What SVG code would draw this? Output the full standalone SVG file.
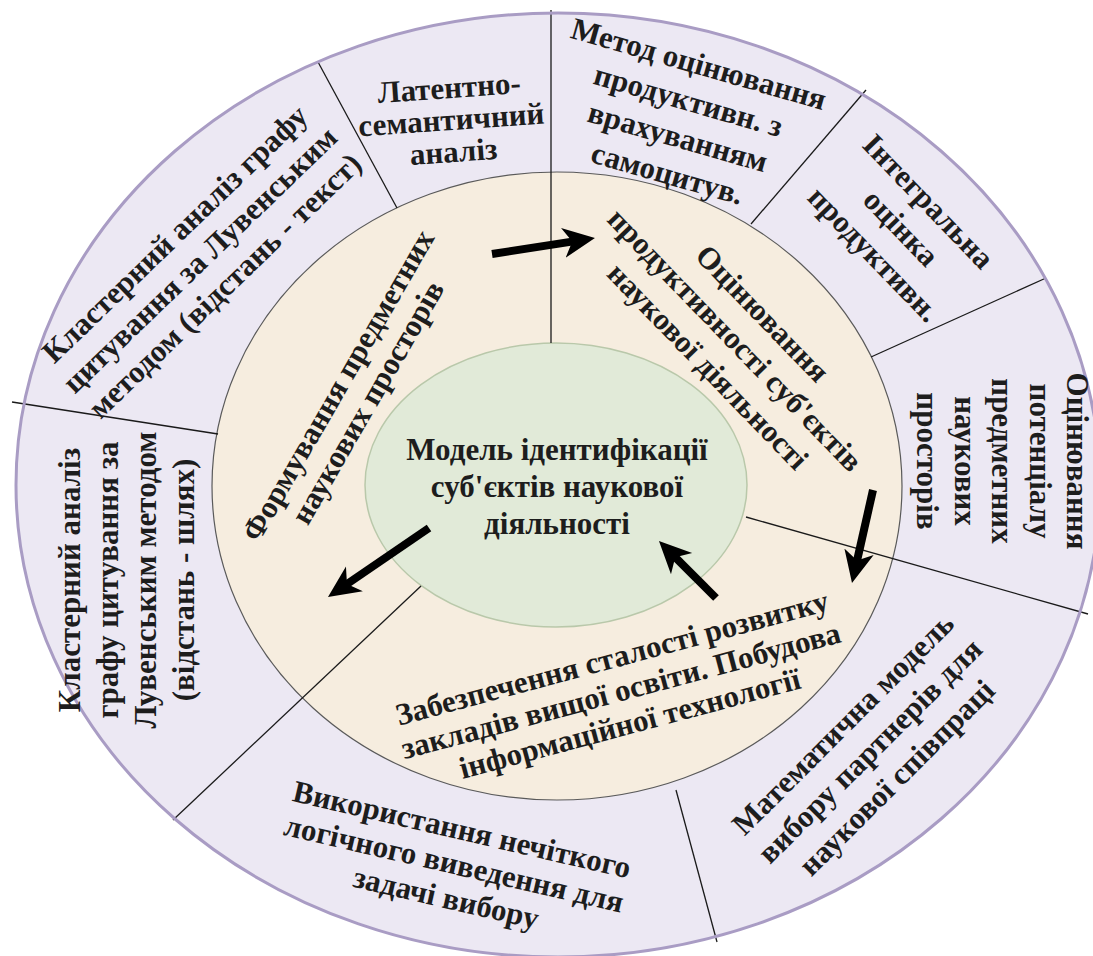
<svg xmlns="http://www.w3.org/2000/svg" width="1093" height="956" viewBox="0 0 1093 956">
  <style>
    .t { font-family: "Liberation Serif", "Times New Roman", serif; font-weight: bold; font-size: 31px; fill: #1d1d1d; text-anchor: middle; }
    .div { stroke: #1a1a1a; stroke-width: 1.3; fill: none; }
    .arrow { stroke: #000; stroke-width: 8; fill: none; marker-end: url(#head); }
  </style>
  <defs>
    <marker id="head" markerUnits="userSpaceOnUse" markerWidth="34" markerHeight="32" viewBox="0 -16 34 32" refX="12" refY="0" orient="auto">
      <path d="M32,0 L0,-15 L9,0 L0,15 Z" fill="#000"/>
    </marker>
  </defs>

  <rect width="1093" height="956" fill="#ffffff"/>

  <!-- rings -->
  <g id="rings">
    <ellipse id="outer-ring" cx="558" cy="485" rx="542" ry="472" fill="#ECE8F3"/>
    <ellipse id="middle-ring" cx="557" cy="486" rx="345" ry="314" fill="#F6EDDF" stroke="#5a5a5a" stroke-width="1.2"/>
    <ellipse id="core" cx="556" cy="485" rx="191" ry="142" fill="#E1EAD8" stroke="#B9C8AA" stroke-width="1.5"/>
  </g>

  <!-- sector dividers -->
  <g id="dividers" class="div">
    <line x1="551" y1="10" x2="551" y2="343"/>
    <line x1="318" y1="62" x2="397" y2="208"/>
    <line x1="12" y1="402" x2="218" y2="434"/>
    <line x1="173" y1="820" x2="421" y2="586"/>
    <line x1="676" y1="790" x2="717" y2="942"/>
    <line x1="746" y1="517" x2="1088" y2="614"/>
    <line x1="871" y1="357" x2="1046" y2="278"/>
    <line x1="751" y1="224" x2="866" y2="90"/>
  </g>

  <ellipse id="outer-rim" cx="558" cy="485" rx="542" ry="472" fill="none" stroke="#A99CC4" stroke-width="3"/>

  <!-- centre -->
  <g id="node-core">
    <text class="t" x="557" y="460">Модель ідентифікації</text>
    <text class="t" x="557" y="497">суб'єктів наукової</text>
    <text class="t" x="557" y="534">діяльності</text>
  </g>

  <!-- middle ring -->
  <g id="node-forming" transform="translate(353,394) rotate(-60)">
    <text class="t" x="0" y="-7">Формування предметних</text>
    <text class="t" x="0" y="27">наукових просторів</text>
  </g>
  <g id="node-productivity" transform="translate(735,340) rotate(46)">
    <text class="t" x="0" y="-28">Оцінювання</text>
    <text class="t" x="0" y="10">продуктивності суб'єктів</text>
    <text class="t" x="0" y="48">наукової діяльності</text>
  </g>
  <g id="node-sustainability" transform="translate(621,691) rotate(-15)">
    <text class="t" x="0" y="-24">Забезпечення сталості розвитку</text>
    <text class="t" x="0" y="10">закладів вищої освіти. Побудова</text>
    <text class="t" x="0" y="44">інформаційної технології</text>
  </g>

  <!-- outer ring -->
  <g id="node-lsa" transform="translate(452,130) rotate(-4)">
    <text class="t" x="0" y="-32">Латентно-</text>
    <text class="t" x="0" y="0">семантичний</text>
    <text class="t" x="0" y="32">аналіз</text>
  </g>
  <g id="node-selfcite" transform="translate(683,119) rotate(16)">
    <text class="t" x="0" y="-47">Метод оцінювання</text>
    <text class="t" x="0" y="-9">продуктивн. з</text>
    <text class="t" x="0" y="29">врахуванням</text>
    <text class="t" x="0" y="67">самоцитув.</text>
  </g>
  <g id="node-integral" transform="translate(901,228) rotate(46)">
    <text class="t" x="0" y="-28">Інтегральна</text>
    <text class="t" x="0" y="10">оцінка</text>
    <text class="t" x="0" y="48">продуктивн.</text>
  </g>
  <g id="node-potential" transform="translate(992,461) rotate(90)">
    <text class="t" x="0" y="-75">Оцінювання</text>
    <text class="t" x="0" y="-37.5">потенціалу</text>
    <text class="t" x="0" y="0">предметних</text>
    <text class="t" x="0" y="37.5">наукових</text>
    <text class="t" x="0" y="75">просторів</text>
  </g>
  <g id="node-partners" transform="translate(870,751) rotate(-45)">
    <text class="t" x="0" y="-28">Математична модель</text>
    <text class="t" x="0" y="10">вибору партнерів для</text>
    <text class="t" x="0" y="48">наукової співпраці</text>
  </g>
  <g id="node-fuzzy" transform="translate(454,864) rotate(13)">
    <text class="t" x="0" y="-25">Використання нечіткого</text>
    <text class="t" x="0" y="10">логічного виведення для</text>
    <text class="t" x="0" y="45">задачі вибору</text>
  </g>
  <g id="node-louvain-path" transform="translate(137,580) rotate(-90)">
    <text class="t" x="0" y="-57">Кластерний аналіз</text>
    <text class="t" x="0" y="-19">графу цитування за</text>
    <text class="t" x="0" y="19">Лувенським методом</text>
    <text class="t" x="0" y="57">(відстань - шлях)</text>
  </g>
  <g id="node-louvain-text" transform="translate(200,260) rotate(-44)">
    <text class="t" x="0" y="-26">Кластерний аналіз графу</text>
    <text class="t" x="0" y="10">цитування за Лувенським</text>
    <text class="t" x="0" y="46">методом (відстань - текст)</text>
  </g>

  <!-- flow arrows -->
  <g id="connectors">
    <line class="arrow" x1="492" y1="254" x2="575.2" y2="241.1"/>
    <line class="arrow" x1="873" y1="490" x2="856.4" y2="563.5"/>
    <line class="arrow" x1="716" y1="598" x2="673.1" y2="555.1"/>
    <line class="arrow" x1="429" y1="528" x2="344.5" y2="585.7"/>
  </g>
</svg>
